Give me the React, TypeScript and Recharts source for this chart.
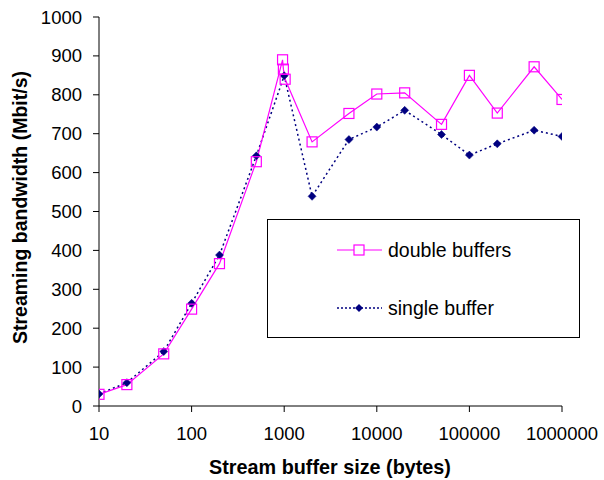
import React from 'react';
import { LineChart, Line, XAxis, YAxis, Label } from 'recharts';

const doubleX = [10, 20, 50, 100, 200, 500, 960, 980, 1024, 2000, 5000, 10000, 20000, 50000, 100000, 200000, 500000, 1000000];
const doubleY = [30, 55, 134, 249, 366, 628, 890, 866, 840, 679, 752, 802, 805, 724, 850, 753, 872, 788];
const singleX = [10, 20, 50, 100, 200, 500, 1000, 2000, 5000, 10000, 20000, 50000, 100000, 200000, 500000, 1000000];
const singleY = [31, 60, 140, 264, 388, 643, 849, 539, 685, 717, 760, 698, 645, 674, 709, 693];
const xTicks = [10, 100, 1000, 10000, 100000, 1000000];
const yTicks = [0, 100, 200, 300, 400, 500, 600, 700, 800, 900, 1000];

const doubleData = doubleX.map((x, i) => ({ x, y: doubleY[i] }));
const singleData = singleX.map((x, i) => ({ x, y: singleY[i] }));

const MAGENTA = '#FF00FF';
const NAVY = '#000080';
const FONT = '"Liberation Sans", Arial, sans-serif';

const SquareDot = (props: any) => {
  const { cx, cy, index } = props;
  if (cx == null || cy == null) return <g key={`sq-${index}`} />;
  return <rect key={`sq-${index}`} x={cx - 5} y={cy - 5} width={10} height={10} fill="none" stroke={MAGENTA} strokeWidth={1.2} />;
};

const DiamondDot = (props: any) => {
  const { cx, cy, index } = props;
  if (cx == null || cy == null) return <g key={`dm-${index}`} />;
  return <path key={`dm-${index}`} d={`M${cx},${cy - 4} L${cx + 4},${cy} L${cx},${cy + 4} L${cx - 4},${cy} Z`} fill={NAVY} stroke={NAVY} strokeWidth={0.5} />;
};

const LegendBox = () => (
  <svg width={314} height={120} style={{ display: 'block' }}>
    <rect x={0.5} y={0.5} width={312} height={118} fill="#fff" stroke="#000" strokeWidth={1} />
    <line x1={70} y1={31} x2={115} y2={31} stroke={MAGENTA} strokeWidth={1.2} />
    <rect x={87} y={26} width={10} height={10} fill="#fff" stroke={MAGENTA} strokeWidth={1.2} />
    <text x={121} y={37.5} fontFamily={FONT} fontSize={19.5} fill="#000">double buffers</text>
    <line x1={70} y1={89} x2={115} y2={89} stroke={NAVY} strokeWidth={1.5} strokeDasharray="2 2" />
    <path d="M92,85 L96,89 L92,93 L88,89 Z" fill={NAVY} />
    <text x={121} y={95.5} fontFamily={FONT} fontSize={19.5} fill="#000">single buffer</text>
  </svg>
);

export default function App() {
  return (
    <div style={{ position: 'absolute', left: 0, top: 0, width: 604, height: 480, background: '#fff' }}>
      <LineChart width={604} height={480} margin={{ top: 17, right: 42, bottom: 0, left: 0 }}>
        <XAxis
          dataKey="x"
          type="number"
          scale="log"
          domain={[10, 1000000]}
          ticks={xTicks}
          allowDataOverflow
          height={74}
          stroke="#000"
          tickSize={6}
          tickMargin={15}
          tick={{ fill: '#000', fontSize: 18.5, fontFamily: FONT }}
          interval={0}
        >
          <Label
            content={() => (
              <text x={330} y={474} textAnchor="middle" fontFamily={FONT} fontWeight="bold" fontSize={19.8} fill="#000">
                Stream buffer size (bytes)
              </text>
            )}
          />
        </XAxis>
        <YAxis
          type="number"
          domain={[0, 1000]}
          ticks={yTicks}
          width={99}
          stroke="#000"
          tickSize={6}
          tickMargin={11}
          tick={{ fill: '#000', fontSize: 18.5, fontFamily: FONT }}
          interval={0}
        >
          <Label
            content={() => (
              <text x={0} y={0} transform="translate(26.5,207.5) rotate(-90)" textAnchor="middle" fontFamily={FONT} fontWeight="bold" fontSize={19.5} fill="#000">
                Streaming bandwidth (Mbit/s)
              </text>
            )}
          />
        </YAxis>
        <Line
          data={singleData}
          dataKey="y"
          name="single buffer"
          stroke={NAVY}
          strokeWidth={1.5}
          strokeDasharray="2 3"
          dot={DiamondDot}
          activeDot={false}
          isAnimationActive={false}
        />
        <Line
          data={doubleData}
          dataKey="y"
          name="double buffers"
          stroke={MAGENTA}
          strokeWidth={1.2}
          dot={SquareDot}
          activeDot={false}
          isAnimationActive={false}
        />
      </LineChart>
      <div style={{ position: 'absolute', left: 267, top: 219 }}>
        <LegendBox />
      </div>
    </div>
  );
}
